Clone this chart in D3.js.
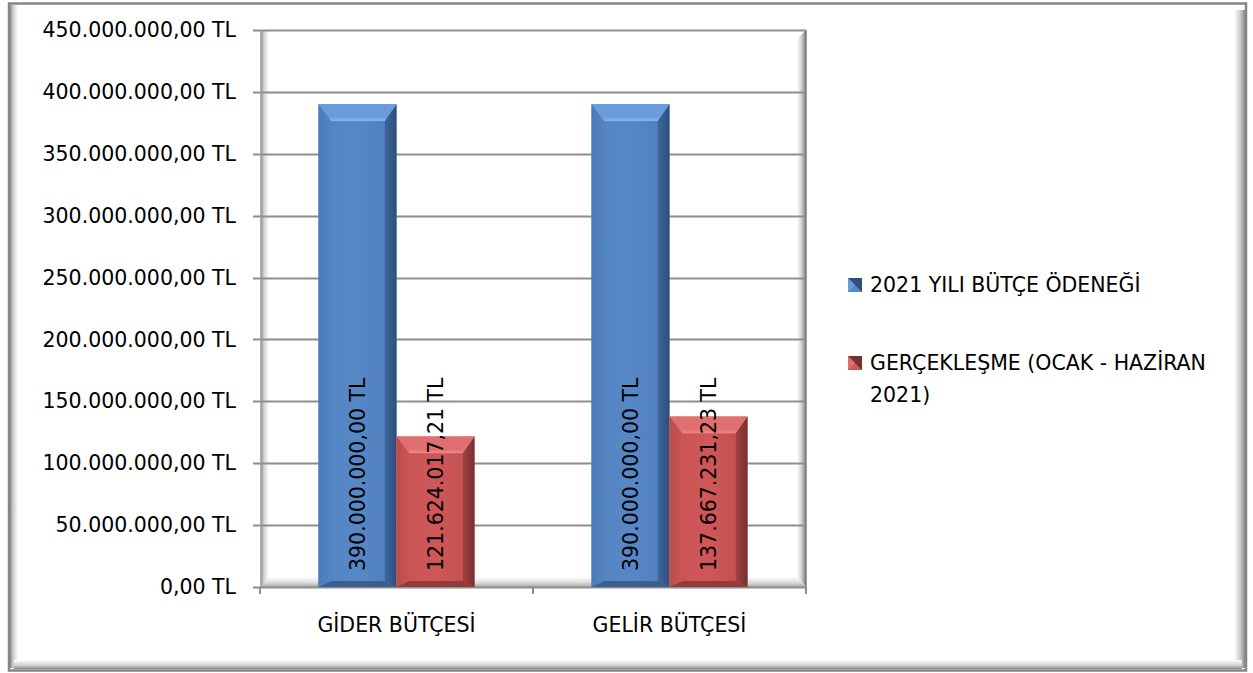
<!DOCTYPE html>
<html>
<head>
<meta charset="utf-8">
<script src="https://cdn.jsdelivr.net/npm/d3@7"></script>
<style>
  html, body { margin: 0; padding: 0; background: #fff; }
  svg { display: block; }
  text { font-family: "DejaVu Sans", sans-serif; fill: #000; }
</style>
</head>
<body>
<svg id="chart" width="1253" height="673"></svg>
<script>
// ---- data ----
const categories = ["GİDER BÜTÇESİ", "GELİR BÜTÇESİ"];
const seriesNames = ["2021 YILI BÜTÇE ÖDENEĞİ", "GERÇEKLEŞME (OCAK - HAZİRAN 2021)"];
const budgetValues = [390000000.00, 390000000.00];
const actualValues = [121624017.21, 137667231.23];
const yTickValues = [0, 50000000, 100000000, 150000000, 200000000, 250000000, 300000000, 350000000, 400000000, 450000000];

// ---- setup ----
const svg = d3.select("#chart");
const W = 1253, H = 673;
const plot = { left: 260, right: 806, top: 30, bottom: 587 };
const FS = 20.5;

const trLocale = d3.formatLocale({ decimal: ",", thousands: ".", grouping: [3], currency: ["", " TL"] });
const fmt = trLocale.format("$,.2f");

const x0 = d3.scaleBand().domain(categories).range([plot.left, plot.right]).paddingInner(0).paddingOuter(0);
const x1 = d3.scaleBand().domain(seriesNames).range([0, x0.bandwidth()]).paddingInner(0).paddingOuter(0.75);
const y = d3.scaleLinear().domain([0, 450000000]).range([plot.bottom, plot.top]);

const seriesValues = [budgetValues, actualValues];
const palette = [
  { face: "#5687c7", top: "#6a9cdc", topHi: "#8ab6ee", left: "#4a7ab8", right: "#2f4e79", rightIn: "#3f679e", bottom: "#3b5f91" },
  { face: "#cf5757", top: "#e06f6f", topHi: "#ee8d8d", left: "#bb4c4c", right: "#763030", rightIn: "#a24141", bottom: "#953a3a" }
];

const defs = svg.append("defs");
function lin(id, x1_, y1_, x2_, y2_, stops) {
  const g = defs.append("linearGradient").attr("id", id)
    .attr("x1", x1_).attr("y1", y1_).attr("x2", x2_).attr("y2", y2_);
  stops.forEach(s => g.append("stop").attr("offset", s[0]).attr("stop-color", s[1]));
}
lin("frameL", "0", "0", "1", "0", [["0", "#8c8c8c"], ["0.35", "#c8c8c8"], ["1", "#ffffff"]]);
lin("frameR", "0", "0", "1", "0", [["0", "#ffffff"], ["0.6", "#c8c8c8"], ["1", "#8a8a8a"]]);
lin("frameB", "0", "0", "0", "1", [["0", "#ffffff"], ["0.6", "#cfcfcf"], ["1", "#8a8a8a"]]);
lin("wallL", "0", "0", "1", "0", [["0", "#9a9a9a"], ["0.4", "#d4d4d4"], ["1", "#ffffff"]]);
lin("wallR", "0", "0", "1", "0", [["0", "#ffffff"], ["0.5", "#d0d0d0"], ["1", "#7a7a7a"]]);
lin("floor", "0", "0", "0", "1", [["0", "#ffffff"], ["0.55", "#dcdcdc"], ["1", "#a8a8a8"]]);
palette.forEach((p, i) => {
  lin("face" + i, "0", "0", "1", "0", [["0", d3.color(p.face).darker(0.05)], ["0.5", p.face], ["1", d3.color(p.face).darker(0.15)]]);
  lin("topg" + i, "0", "0", "0", "1", [["0", p.top], ["0.75", p.top], ["1", p.topHi]]);
  lin("rightg" + i, "0", "0", "1", "0", [["0", p.rightIn], ["1", p.right]]);
  lin("leftg" + i, "0", "0", "1", "0", [["0", p.left], ["1", d3.color(p.face).darker(0.05)]]);
});

// ---- frame ----
svg.append("rect").attr("x", 0).attr("y", 0).attr("width", W).attr("height", H).attr("fill", "#fff");
svg.append("rect").attr("x", 10).attr("y", 5).attr("width", 8).attr("height", 663).attr("fill", "url(#frameL)");
svg.append("rect").attr("x", 1234).attr("y", 10).attr("width", 11).attr("height", 658).attr("fill", "url(#frameR)");
svg.append("rect").attr("x", 14).attr("y", 660).attr("width", 1228).attr("height", 9).attr("fill", "url(#frameB)");
svg.append("rect").attr("x", 9).attr("y", 3.5).attr("width", 1237).attr("height", 667)
  .attr("fill", "none").attr("stroke", "#858585").attr("stroke-width", 2.5);

// ---- plot walls ----
svg.append("rect").attr("x", plot.left).attr("y", plot.top).attr("width", plot.right - plot.left)
  .attr("height", plot.bottom - plot.top).attr("fill", "#fff");
svg.append("rect").attr("x", plot.left + 1).attr("y", plot.top + 1).attr("width", 8)
  .attr("height", plot.bottom - plot.top - 1).attr("fill", "url(#wallL)");
svg.append("path")
  .attr("d", `M${plot.right - 9},${plot.top + 9} L${plot.right},${plot.top} L${plot.right},${plot.bottom} L${plot.right - 9},${plot.bottom - 10} Z`)
  .attr("fill", "url(#wallR)");
svg.append("path")
  .attr("d", `M${plot.left + 9},${plot.bottom - 10} L${plot.right - 9},${plot.bottom - 10} L${plot.right},${plot.bottom} L${plot.left},${plot.bottom} Z`)
  .attr("fill", "url(#floor)");

// gridlines
svg.append("g").selectAll("line").data(yTickValues.filter(v => v > 0)).join("line")
  .attr("x1", plot.left - 7).attr("x2", plot.right)
  .attr("y1", d => Math.round(y(d)) + 0.5).attr("y2", d => Math.round(y(d)) + 0.5)
  .attr("stroke", "#8e8e8e").attr("stroke-width", 2);
svg.append("line").attr("x1", plot.right).attr("x2", plot.right).attr("y1", plot.top).attr("y2", plot.bottom)
  .attr("stroke", "#7e7e7e").attr("stroke-width", 1.5);
svg.append("line").attr("x1", plot.left + 1).attr("x2", plot.left + 1).attr("y1", plot.top).attr("y2", plot.bottom)
  .attr("stroke", "#9a9a9a").attr("stroke-width", 1.5);

// ---- axes ----
const yAxis = d3.axisLeft(y).tickValues(yTickValues).tickFormat(fmt).tickSize(0).tickPadding(24);
const gy = svg.append("g").attr("transform", `translate(${plot.left},0)`).call(yAxis);
gy.select(".domain").remove();
gy.selectAll("text").style("font-size", FS + "px").style("font-family", "DejaVu Sans").attr("fill", "#000");

const xAxis = d3.axisBottom(x0).tickSize(0).tickPadding(30);
const gx = svg.append("g").attr("transform", `translate(0,${plot.bottom})`).call(xAxis);
gx.select(".domain").remove();
gx.selectAll("text").style("font-size", FS + "px").style("font-family", "DejaVu Sans").attr("fill", "#000").attr("dy", "0.71em");
// category boundary ticks
const bounds = [plot.left, ...categories.map(c => x0(c) + x0.bandwidth())];
svg.append("g").selectAll("line").data(bounds).join("line")
  .attr("x1", d => d).attr("x2", d => d).attr("y1", plot.bottom).attr("y2", plot.bottom + 7)
  .attr("stroke", "#8e8e8e").attr("stroke-width", 2);
svg.append("line").attr("x1", plot.left - 7).attr("x2", plot.right).attr("y1", plot.bottom + 0.5).attr("y2", plot.bottom + 0.5)
  .attr("stroke", "#8e8e8e").attr("stroke-width", 2);

// ---- bars ----
const barData = [];
categories.forEach((c, ci) => {
  seriesNames.forEach((s, si) => {
    barData.push({ cat: c, series: s, si: si, value: seriesValues[si][ci] });
  });
});

const gBars = svg.append("g");
barData.forEach(d => {
  const bx0 = x0(d.cat) + x1(d.series);
  const bx1 = bx0 + x1.bandwidth();
  const by0 = y(d.value);
  const by1 = y(0);
  const h = by1 - by0;
  const bt = Math.min(17, h / 2), bl = 13, br = 12, bb = Math.min(6, h / 4);
  const p = palette[d.si];
  const g = gBars.append("g");
  const pts = a => a.map(q => q.join(",")).join(" ");
  const O = { tl: [bx0, by0], tr: [bx1, by0], br: [bx1, by1], bl: [bx0, by1] };
  const I = { tl: [bx0 + bl, by0 + bt], tr: [bx1 - br, by0 + bt], br: [bx1 - br, by1 - bb], bl: [bx0 + bl, by1 - bb] };
  g.append("rect").attr("x", bx0).attr("y", by0).attr("width", bx1 - bx0).attr("height", h).attr("fill", `url(#face${d.si})`);
  g.append("polygon").attr("points", pts([O.tl, O.bl, I.bl, I.tl])).attr("fill", `url(#leftg${d.si})`);
  g.append("polygon").attr("points", pts([O.tr, O.br, I.br, I.tr])).attr("fill", `url(#rightg${d.si})`);
  g.append("polygon").attr("points", pts([O.bl, O.br, I.br, I.bl])).attr("fill", p.bottom);
  g.append("polygon").attr("points", pts([O.tl, O.tr, I.tr, I.tl])).attr("fill", `url(#topg${d.si})`);
  g.append("rect").attr("x", I.tl[0]).attr("y", I.tl[1]).attr("width", I.tr[0] - I.tl[0]).attr("height", I.bl[1] - I.tl[1])
    .attr("fill", `url(#face${d.si})`);
});

// value labels (rotated, anchored near the base)
svg.append("g").selectAll("text").data(barData).join("text")
  .attr("transform", d => `translate(${x0(d.cat) + x1(d.series) + x1.bandwidth() / 2},${y(0) - 16}) rotate(-90)`)
  .attr("dy", "0.36em")
  .attr("text-anchor", "start")
  .style("font-size", FS + "px")
  .text(d => fmt(d.value));

// ---- legend ----
const legend = svg.append("g").attr("transform", "translate(848,0)");
const legendRows = [
  { lines: ["2021 YILI BÜTÇE ÖDENEĞİ"], y: 292 },
  { lines: ["GERÇEKLEŞME (OCAK - HAZİRAN", "2021)"], y: 370 }
];
legendRows.forEach((r, i) => {
  const p = palette[i];
  const sy = r.y - 14;
  legend.append("rect").attr("x", 0).attr("y", sy).attr("width", 14).attr("height", 14).attr("fill", p.face);
  legend.append("polygon").attr("points", `0,${sy} 14,${sy} 14,${sy + 14}`).attr("fill", p.right);
  legend.append("polygon").attr("points", `0,${sy} 7,${sy + 7} 0,${sy + 14}`).attr("fill", p.top);
  const t = legend.append("text").attr("x", 22).attr("y", r.y).style("font-size", FS + "px");
  r.lines.forEach((ln, k) => {
    t.append("tspan").attr("x", 22).attr("y", r.y + k * 31.5).text(ln);
  });
});
</script>
</body>
</html>
